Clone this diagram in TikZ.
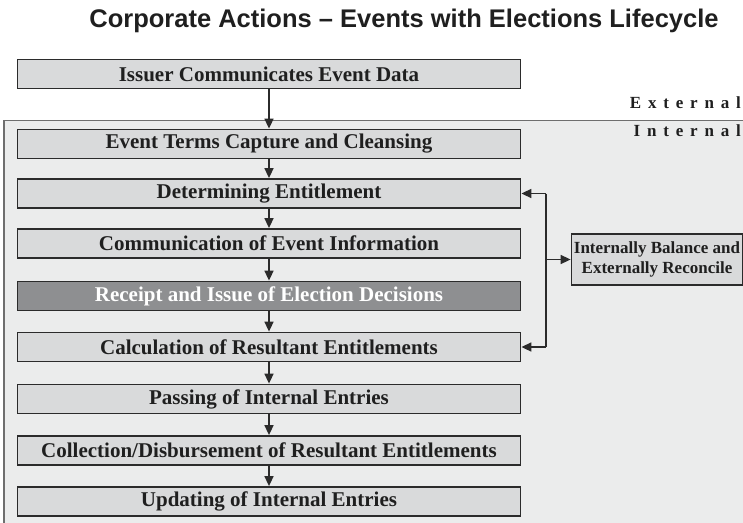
\documentclass[tikz,border=0pt]{standalone}
\usepackage{fontspec}
\setmainfont{Liberation Serif}
\newfontfamily\titlefont{Liberation Sans}
\newfontfamily\spacedfont[LetterSpace=40]{Liberation Serif}
\usetikzlibrary{arrows.meta}
\definecolor{boxfill}{HTML}{D9DADB}
\definecolor{darkfill}{HTML}{8E8F91}
\definecolor{edgecol}{HTML}{2B2B2B}
\definecolor{regionfill}{HTML}{EBECEC}
\definecolor{regionedge}{HTML}{6E6E6E}
\begin{document}
\begin{tikzpicture}[x=1pt,y=-1pt,
  stepbox/.style={draw=edgecol, line width=1.8pt, fill=boxfill, minimum width=503pt, minimum height=29pt, inner sep=0pt,
    font=\bfseries\fontsize{21}{23}\selectfont, text=black!88},
  darkbox/.style={stepbox, fill=darkfill, text=white},
  sidebox/.style={draw=edgecol, line width=1.8pt, fill=boxfill, minimum width=171pt, minimum height=51pt, inner sep=0pt,
    align=center, font=\bfseries\fontsize{17}{19.5}\selectfont, text=black!88},
  arr/.style={draw=edgecol, line width=1.6pt, -{Triangle[length=10pt,width=9pt]}},
  bus/.style={draw=edgecol, line width=1.6pt},
  lab/.style={anchor=east, inner sep=0pt, font=\spacedfont\bfseries\fontsize{17}{19}\selectfont, text=black!88}
]
\path[use as bounding box] (0,0) rectangle (743,522);
\fill[white] (0,0) rectangle (743,522);
\draw[regionedge, fill=regionfill, line width=1.2pt] (4,120.5) rectangle (760,540);

\node[font=\titlefont\bfseries\fontsize{25.5}{28}\selectfont, text=black!88] (title) at (404,21) {Corporate Actions – Events with Elections Lifecycle};

\node[lab] (ext) at (741,103) {External};
\node[lab] (int) at (741,131) {Internal};

\node[stepbox] (issuer) at (269,74) {Issuer Communicates Event Data};
\node[stepbox] (terms) at (269,144) {Event Terms Capture and Cleansing};
\node[stepbox] (determ) at (269,193.5) {Determining Entitlement};
\node[stepbox] (comm) at (269,243.5) {Communication of Event Information};
\node[darkbox] (receipt) at (269,296) {Receipt and Issue of Election Decisions};
\node[stepbox] (calc) at (269,347) {Calculation of Resultant Entitlements};
\node[stepbox] (passing) at (269,399) {Passing of Internal Entries};
\node[stepbox] (collect) at (269,450.5) {Collection/Disbursement of Resultant Entitlements};
\node[stepbox] (update) at (269,501.5) {Updating of Internal Entries};

\node[sidebox] (side) at (657,259.5) {Internally Balance and\\Externally Reconcile};

\draw[arr] (issuer) -- (terms);
\draw[arr] (terms) -- (determ);
\draw[arr] (determ) -- (comm);
\draw[arr] (comm) -- (receipt);
\draw[arr] (receipt) -- (calc);
\draw[arr] (calc) -- (passing);
\draw[arr] (passing) -- (collect);
\draw[arr] (collect) -- (update);

\coordinate (busx) at (546,0);
\draw[bus] (busx |- determ.east) -- (busx |- calc.east);
\draw[arr] (busx |- determ.east) -- (determ.east);
\draw[arr] (busx |- calc.east) -- (calc.east);
\draw[arr] (busx |- side.west) -- (side.west);
\end{tikzpicture}
\end{document}
